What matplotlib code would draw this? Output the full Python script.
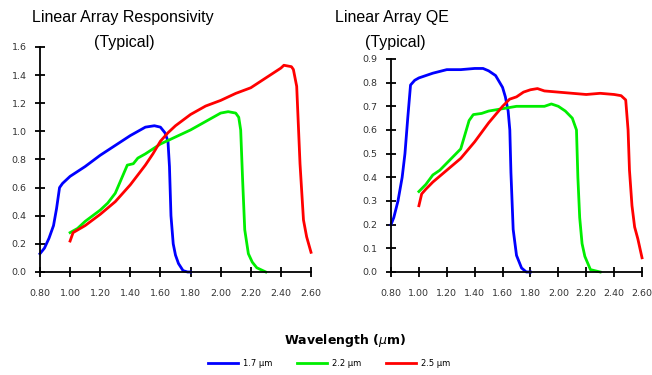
import matplotlib.pyplot as plt
from matplotlib.ticker import FormatStrFormatter

# Responsivity (A/W) vs wavelength (um)
resp_17_wl = [0.80, 0.83, 0.86, 0.89, 0.91, 0.93, 0.95, 1.00, 1.10, 1.20, 1.30, 1.40, 1.50,
              1.56, 1.60, 1.63, 1.65, 1.66, 1.67, 1.685, 1.70, 1.72, 1.75, 1.78, 1.80]
resp_17 = [0.13, 0.17, 0.24, 0.33, 0.45, 0.60, 0.63, 0.68, 0.75, 0.83, 0.90, 0.97, 1.03,
           1.04, 1.03, 0.99, 0.93, 0.75, 0.40, 0.20, 0.12, 0.06, 0.01, 0.0, 0.0]

resp_22_wl = [1.00, 1.05, 1.10, 1.20, 1.25, 1.30, 1.34, 1.38, 1.42, 1.45, 1.50, 1.60, 1.70,
              1.80, 1.90, 2.00, 2.05, 2.10, 2.12, 2.133, 2.146, 2.16, 2.184, 2.21, 2.24, 2.30]
resp_22 = [0.28, 0.31, 0.36, 0.44, 0.49, 0.56, 0.66, 0.76, 0.77, 0.81, 0.84, 0.91, 0.96,
           1.01, 1.07, 1.13, 1.14, 1.13, 1.10, 1.01, 0.65, 0.30, 0.13, 0.07, 0.03, 0.0]

resp_25_wl = [1.00, 1.02, 1.10, 1.20, 1.30, 1.40, 1.50, 1.55, 1.60, 1.65, 1.70, 1.80, 1.90,
              2.00, 2.10, 2.20, 2.30, 2.40, 2.42, 2.47, 2.483, 2.505, 2.527, 2.55, 2.571, 2.60]
resp_25 = [0.22, 0.28, 0.33, 0.41, 0.50, 0.62, 0.76, 0.84, 0.93, 0.99, 1.04, 1.12, 1.18,
           1.22, 1.27, 1.31, 1.38, 1.45, 1.47, 1.46, 1.44, 1.32, 0.77, 0.37, 0.25, 0.14]

# Quantum efficiency vs wavelength (um)
qe_17_wl = [0.80, 0.82, 0.85, 0.88, 0.90, 0.92, 0.94, 0.97, 1.00, 1.10, 1.20, 1.30, 1.40,
            1.46, 1.50, 1.55, 1.60, 1.62, 1.64, 1.652, 1.66, 1.676, 1.70, 1.736, 1.77, 1.80]
qe_17 = [0.20, 0.23, 0.30, 0.40, 0.50, 0.65, 0.79, 0.81, 0.82, 0.84, 0.855, 0.855, 0.86,
         0.86, 0.85, 0.83, 0.78, 0.74, 0.68, 0.60, 0.42, 0.18, 0.07, 0.017, 0.0, 0.0]

qe_22_wl = [1.00, 1.05, 1.10, 1.15, 1.20, 1.25, 1.30, 1.33, 1.36, 1.39, 1.45, 1.50, 1.60,
            1.70, 1.80, 1.90, 1.95, 2.00, 2.05, 2.10, 2.13, 2.14, 2.153, 2.17, 2.19, 2.23, 2.30]
qe_22 = [0.34, 0.37, 0.41, 0.43, 0.46, 0.49, 0.52, 0.58, 0.64, 0.665, 0.67, 0.68, 0.69,
         0.70, 0.70, 0.70, 0.71, 0.70, 0.68, 0.65, 0.60, 0.40, 0.23, 0.12, 0.066, 0.01, 0.0]

qe_25_wl = [1.00, 1.02, 1.05, 1.10, 1.20, 1.30, 1.40, 1.50, 1.60, 1.65, 1.70, 1.75, 1.80,
            1.85, 1.90, 2.00, 2.10, 2.20, 2.30, 2.40, 2.45, 2.483, 2.50, 2.51, 2.528, 2.547, 2.57, 2.60]
qe_25 = [0.28, 0.33, 0.35, 0.38, 0.43, 0.48, 0.55, 0.63, 0.70, 0.73, 0.74, 0.76, 0.77,
         0.775, 0.765, 0.76, 0.755, 0.75, 0.755, 0.75, 0.745, 0.727, 0.60, 0.43, 0.28, 0.19, 0.14, 0.06]

labels = ['1.7 µm', '2.2 µm', '2.5 µm']
colors = ['#0000ff', '#00ee00', '#ff0000']
x_ticks = [0.80, 1.00, 1.20, 1.40, 1.60, 1.80, 2.00, 2.20, 2.40, 2.60]

fig = plt.figure(figsize=(6.52, 3.75), dpi=100)
ax1 = fig.add_axes([0.0613, 0.2747, 0.4157, 0.6])
ax2 = fig.add_axes([0.5997, 0.2747, 0.385, 0.568])

resp = [(resp_17_wl, resp_17), (resp_22_wl, resp_22), (resp_25_wl, resp_25)]
qe = [(qe_17_wl, qe_17), (qe_22_wl, qe_22), (qe_25_wl, qe_25)]

lines = []
for (wl, v), c, lab in zip(resp, colors, labels):
    ln, = ax1.plot(wl, v, color=c, lw=2.0, label=lab, clip_on=False)
    lines.append(ln)
for (wl, v), c in zip(qe, colors):
    ax2.plot(wl, v, color=c, lw=2.0, clip_on=False)

for ax, ymax, ystep in [(ax1, 1.6, 0.2), (ax2, 0.9, 0.1)]:
    ax.set_xlim(0.8, 2.6)
    ax.set_ylim(0, ymax)
    ax.set_xticks(x_ticks)
    n = int(round(ymax / ystep))
    ax.set_yticks([i * ystep for i in range(n + 1)])
    ax.xaxis.set_major_formatter(FormatStrFormatter('%.2f'))
    ax.yaxis.set_major_formatter(FormatStrFormatter('%.1f'))
    for s in ['top', 'right']:
        ax.spines[s].set_visible(False)
    for s in ['left', 'bottom']:
        ax.spines[s].set_linewidth(1.3)
    ax.tick_params(direction='inout', length=7, width=1.3, labelsize=6.8,
                   labelcolor='#333333')
    ax.tick_params(axis='x', pad=9)
    ax.tick_params(axis='y', pad=6)

title_font = dict(ha='center', va='center', fontsize=11.5, family='Liberation Sans')
fig.text(0.188, 0.953, 'Linear Array Responsivity', **title_font)
fig.text(0.19, 0.888, '(Typical)', **title_font)
fig.text(0.601, 0.953, 'Linear Array QE', **title_font)
fig.text(0.606, 0.888, '(Typical)', **title_font)

fig.text(0.529, 0.093, 'Wavelength ($\\mu$m)', ha='center', va='center',
         fontsize=9, fontweight='bold')
fig.legend(handles=lines, labels=labels, loc='center', bbox_to_anchor=(0.505, 0.032),
           ncol=3, frameon=False, fontsize=6, handlelength=3.6, columnspacing=3.0,
           handletextpad=0.6)

fig.savefig('out.png', dpi=100)
